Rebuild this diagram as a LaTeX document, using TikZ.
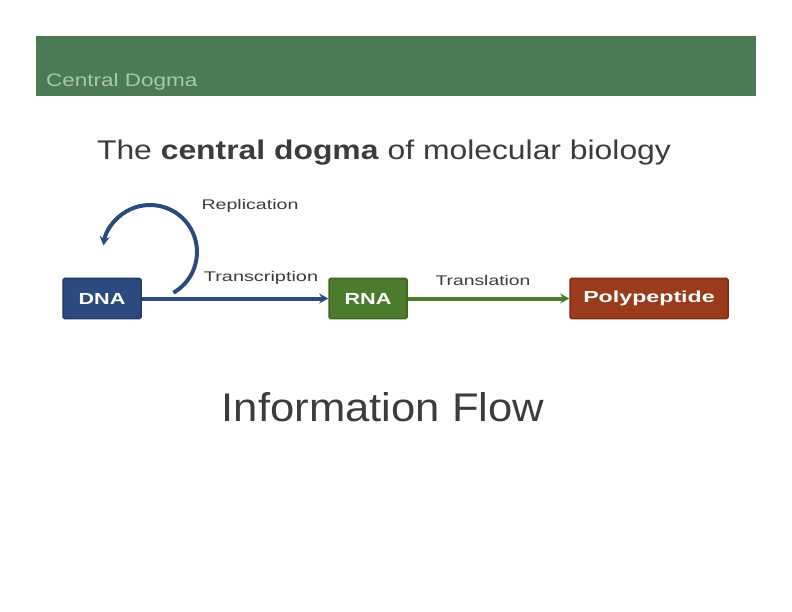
\documentclass[tikz,border=0pt]{standalone}
\usepackage{fontspec}
\setmainfont{Liberation Sans}
\usetikzlibrary{arrows.meta}
\definecolor{hdr}{HTML}{4A7B56}
\definecolor{hdrtxt}{HTML}{A8C8AE}
\definecolor{dnac}{HTML}{2C4A80}
\definecolor{rnac}{HTML}{4C7B2C}
\definecolor{polyc}{HTML}{9A3B1C}
\definecolor{txt}{HTML}{3C3C3C}
\tikzset{
  box/.style={draw=#1!80!black, fill=#1, line width=1.5pt, rounded corners=1.5pt, text=white,
    font=\bfseries\fontsize{16}{18}\selectfont, minimum height=40pt, inner sep=0pt},
  lbl/.style={text=txt, font=\fontsize{14}{16}\selectfont, inner sep=0pt},
  conn/.style={draw=#1, line width=4pt, -{Stealth[length=9pt,width=10pt]}}
}
\newcommand{\wide}[2]{\scalebox{#1}[1]{#2}}
\begin{document}
\begin{tikzpicture}[x=1pt,y=-1pt]
\useasboundingbox (0,0) rectangle (792,612);
\fill[white] (0,0) rectangle (792,612);
\node[fill=hdr, minimum width=720pt, minimum height=60pt, inner sep=0pt, anchor=north west] (header) at (36,36) {};
\node[anchor=base west, text=hdrtxt, font=\fontsize{18}{20}\selectfont, inner sep=0pt] (htitle) at (46,87) {\wide{1.25}{Central Dogma}};
\node[text=txt, font=\fontsize{27}{30}\selectfont, inner sep=0pt] (title) at (384,153) {\wide{1.18}{The \textbf{central dogma} of molecular biology}};
\node[box=dnac, minimum width=78pt] (dna) at (102,298.5) {\wide{1.35}{DNA}};
\node[box=rnac, minimum width=78pt] (rna) at (368,298.5) {\wide{1.35}{RNA}};
\node[box=polyc, minimum width=158pt] (poly) at (649,298.5) {\wide{1.45}{Polypeptide}};
\draw[conn=dnac] (dna.east) -- (rna.west);
\draw[conn=rnac] (rna.east) -- (poly.west);
\coordinate (loopstart) at (173.5,292.7);
\draw[conn=dnac] (loopstart) arc[start angle=60, end angle=-172, radius=47];
\node[lbl] (rep) at (250,206) {\wide{1.4}{Replication}};
\node[lbl] (trans) at (261,278) {\wide{1.42}{Transcription}};
\node[lbl] (tl) at (483,280) {\wide{1.38}{Translation}};
\node[text=txt, font=\fontsize{40}{46}\selectfont, inner sep=0pt] (flow) at (383,407) {\wide{1.09}{Information Flow}};
\end{tikzpicture}
\end{document}
